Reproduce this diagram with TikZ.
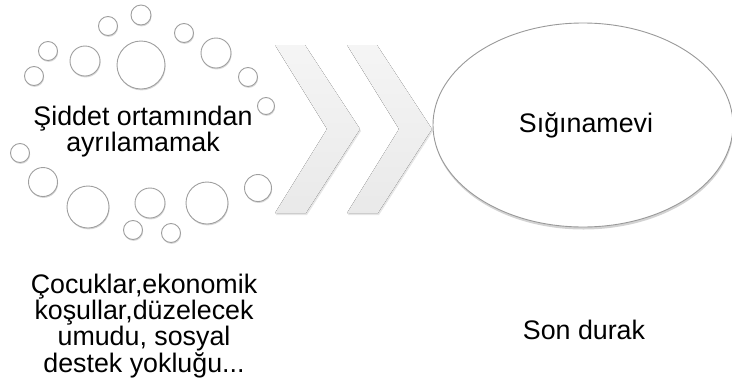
\documentclass[tikz,border=0pt]{standalone}
\usepackage{fontspec}
\setmainfont{Liberation Sans}
\usetikzlibrary{shapes.geometric,shadows}

\tikzset{
  bubble/.style={circle,draw=gray!75,line width=0.9pt,fill=white,inner sep=0pt,
    drop shadow={shadow xshift=0.6pt,shadow yshift=-1.4pt,opacity=0.3,fill=gray}},
  chevron/.style={top color=gray!8,bottom color=gray!17,
    drop shadow={shadow xshift=1pt,shadow yshift=-2pt,opacity=0.2,fill=gray}},
  bigoval/.style={ellipse,draw=gray!80,line width=0.9pt,fill=white,inner sep=0pt,
    minimum width=300pt,minimum height=204pt,
    drop shadow={shadow xshift=0.5pt,shadow yshift=-2.5pt,opacity=0.35,fill=gray}},
  toplabel/.style={align=center,inner sep=0pt,font=\fontsize{26.8}{25}\selectfont},
  lowlabel/.style={align=center,inner sep=0pt,font=\fontsize{26.8}{23.3}\selectfont}
}

\begin{document}
\begin{tikzpicture}[x=1pt,y=-1pt]
\useasboundingbox (0,0) rectangle (732,389);
% ring of bubbles
\foreach \x/\y/\r [count=\i] in {
  141/15/10, 108/26/9.5, 184/33/9.5, 48/51/9.5, 85/61/15, 141/65/24,
  216/53/15, 34/76/9.5, 248/77/9.5, 266/106/8.5, 20/153/9.5, 43/182/14.5,
  88/207/21, 150/203/15, 207/203/21, 258/188/13.5, 133/230/9.5, 171/233/9.5}
  \node[bubble,minimum size=2*\r pt] (b\i) at (\x,\y) {}; % bubble.\i
% chevrons
\foreach \s in {0,72}
  \fill[chevron] (275+\s,45) -- (305+\s,45) -- (360+\s,129) -- (306+\s,213)
    -- (275+\s,213) -- (327+\s,129) -- cycle; % chevron
\node[bigoval] (shelter) at (583,125) {}; % oval
\node[toplabel,anchor=base] (shelterlbl) at (586,132) {Sığınamevi}; % oval text
\node[toplabel] (stay) at (143,132) {Şiddet ortamından\\ayrılamamak}; % ring text
\node[lowlabel] (reasons) at (144,326) {Çocuklar,ekonomik\\koşullar,düzelecek\\umudu, sosyal\\destek yokluğu...}; % below ring
\node[lowlabel,anchor=base] (last) at (584,339) {Son durak}; % below oval
\end{tikzpicture}
\end{document}
